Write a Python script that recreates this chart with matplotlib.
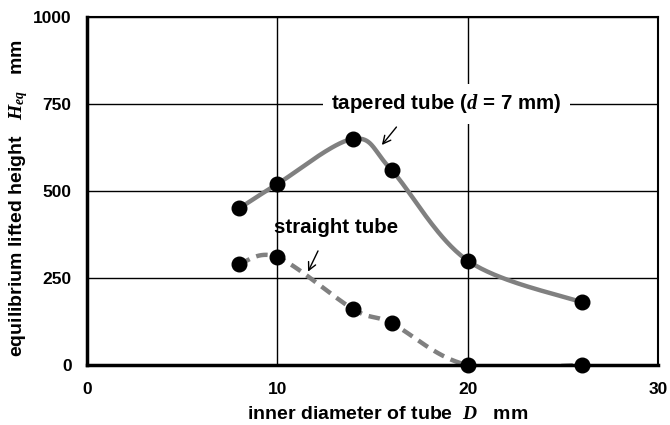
import matplotlib
matplotlib.use("Agg")
import matplotlib.pyplot as plt
import numpy as np

# data
diameter = [8, 10, 14, 16, 20, 26]
tapered = [450, 520, 650, 560, 300, 180]
straight = [290, 310, 160, 120, 0, 0]

x_ticks = [0, 10, 20, 30]
y_ticks = [0, 250, 500, 750, 1000]


def smooth(xs, ys, n=40):
    # Excel-like smoothed line: Catmull-Rom turned into cubic Bezier segments
    p = np.column_stack([xs, ys]).astype(float)
    pts = np.vstack([p[0], p, p[-1]])
    out = []
    t = np.linspace(0, 1, n)[:, None]
    for i in range(1, len(pts) - 2):
        p0, p1, p2, p3 = pts[i - 1], pts[i], pts[i + 1], pts[i + 2]
        c1 = p1 + (p2 - p0) / 6
        c2 = p2 - (p3 - p1) / 6
        seg = ((1 - t) ** 3) * p1 + 3 * ((1 - t) ** 2) * t * c1 + 3 * (1 - t) * t ** 2 * c2 + t ** 3 * p2
        out.append(seg)
    s = np.vstack(out)
    return s[:, 0], s[:, 1]


plt.rcParams['font.family'] = ['Liberation Sans', 'DejaVu Sans']
plt.rcParams['font.weight'] = 'bold'
plt.rcParams['mathtext.fontset'] = 'custom'
plt.rcParams['mathtext.it'] = 'Liberation Serif:italic'
plt.rcParams['mathtext.rm'] = 'Liberation Sans:bold'

fig = plt.figure(figsize=(6.7, 4.25), dpi=100)
ax = fig.add_axes([87 / 670, 1 - 365 / 425, (658 - 87) / 670, (365 - 17) / 425])

ax.set_xlim(0, 30)
ax.set_ylim(0, 1000)
ax.set_xticks(x_ticks)
ax.set_yticks(y_ticks)
ax.tick_params(length=0, labelsize=12.5)
ax.tick_params(axis='y', pad=11)
ax.tick_params(axis='x', pad=12)
ax.grid(True, color='black', linewidth=1)
ax.set_axisbelow(True)

for side in ['top', 'right']:
    ax.spines[side].set_linewidth(1.5)
for side in ['left', 'bottom']:
    ax.spines[side].set_linewidth(2.5)
ax.spines['bottom'].set_zorder(5)

sx, sy = smooth(diameter, tapered)
ax.plot(sx, sy, color='#808080', linewidth=3.2, zorder=3, clip_on=False)
sx, sy = smooth(diameter, straight)
ax.plot(sx, sy, color='#808080', linewidth=3.2, linestyle=(0, (2.6, 1.6)), zorder=3)

ax.plot(diameter, tapered, 'o', color='black', markersize=10.5, zorder=6, clip_on=False)
ax.plot(diameter, straight, 'o', color='black', markersize=10.5, zorder=6, clip_on=False)

ax.set_xlabel('inner diameter of tube  $D$   mm', fontsize=14, fontweight='bold')
ax.xaxis.set_label_coords(0.527, -0.118)
ax.set_ylabel('equilibrium lifted height   $H_{eq}$   mm', fontsize=14, fontweight='bold')
ax.yaxis.set_label_coords(-0.1, 0.48)

ax.text(18.87, 750, 'tapered tube ($d$ = 7 mm)', fontsize=14.8, fontweight='bold',
        ha='center', va='center', zorder=4,
        bbox=dict(facecolor='white', edgecolor='none', pad=6))
ax.annotate('', xy=(15.4, 626), xytext=(16.35, 690),
            arrowprops=dict(arrowstyle='->', color='black', lw=1, mutation_scale=14))

ax.text(13.06, 395, 'straight tube', fontsize=14.8, fontweight='bold',
        ha='center', va='center', zorder=4)
ax.annotate('', xy=(11.55, 261), xytext=(12.2, 335),
            arrowprops=dict(arrowstyle='->', color='black', lw=1, mutation_scale=14))

fig.savefig('out.png', dpi=100)
